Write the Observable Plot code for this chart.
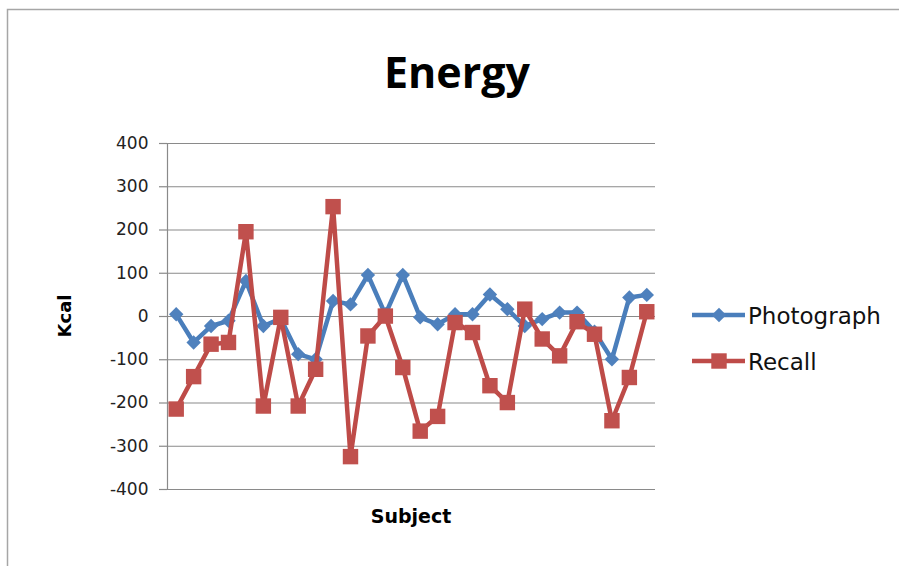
<!DOCTYPE html>
<html>
<head>
<meta charset="utf-8">
<script src="https://cdn.jsdelivr.net/npm/d3@7"></script>
<script src="https://cdn.jsdelivr.net/npm/@observablehq/plot@0.6"></script>
<style>
  html, body { margin: 0; padding: 0; background: #fff; }
  #wrap { position: relative; width: 899px; height: 566px; overflow: hidden; background: #fff; }
  #wrap > svg { position: absolute; left: 0; top: 0; }
</style>
</head>
<body>
<div id="wrap"></div>
<script>
// ---- data ----
const subjects = [1,2,3,4,5,6,7,8,9,10,11,12,13,14,15,16,17,18,19,20,21,22,23,24,25,26,27,28];
const photograph = [5,-60,-22,-10,82,-22,-5,-87,-99,36,28,96,5,96,-2,-18,5,5,51,17,-22,-6,9,9,-35,-99,44,50];
const recall = [-214,-139,-64,-60,196,-207,-2,-207,-122,254,-324,-45,1,-118,-265,-231,-14,-37,-160,-199,17,-52,-91,-12,-41,-241,-141,11];
const yTicks = [-400,-300,-200,-100,0,100,200,300,400];
const xDomain = [0.5, 28.5];
const seriesNames = ["Photograph", "Recall"];
const titleText = "Energy";
const yLabel = "Kcal";
const xLabel = "Subject";

const blueLine = "#4A7EBB", blueFill = "#4F81BD";
const redLine = "#BE4B48", redFill = "#C0504D";
const gridColor = "#8a8a8a";

const photoData = subjects.map((s, i) => ({subject: s, value: photograph[i]}));
const recallData = subjects.map((s, i) => ({subject: s, value: recall[i]}));

const W = 899, H = 566;
const chart = Plot.plot({
  width: W,
  height: H,
  marginLeft: 167,
  marginRight: 244,
  marginTop: 143,
  marginBottom: 77,
  style: {background: "transparent", fontFamily: "DejaVu Sans, sans-serif"},
  x: {type: "linear", domain: xDomain, axis: null},
  y: {domain: [yTicks[0], yTicks[yTicks.length - 1]], axis: null},
  marks: [
    Plot.gridY(yTicks, {stroke: gridColor, strokeOpacity: 1, strokeWidth: 1.2}),
    Plot.axisY(yTicks, {
      tickSize: 8, tickPadding: 11, stroke: gridColor, strokeWidth: 1.2,
      fontSize: 17, fill: "#222", label: null, tickFormat: d => String(d)
    }),
    Plot.ruleX([xDomain[0]], {stroke: gridColor, strokeWidth: 1.2, y1: yTicks[0], y2: yTicks[yTicks.length - 1]}),
    Plot.line(photoData, {x: "subject", y: "value", stroke: blueLine, strokeWidth: 4.5}),
    Plot.dot(photoData, {x: "subject", y: "value", symbol: "diamond2", r: 6.5, fill: blueFill, stroke: "none"}),
    Plot.line(recallData, {x: "subject", y: "value", stroke: redLine, strokeWidth: 4.5}),
    Plot.dot(recallData, {x: "subject", y: "value", symbol: "square", r: 8.7, fill: redFill, stroke: "none"})
  ]
});
document.getElementById("wrap").appendChild(chart);

// ---- overlay: border, title, axis titles, legend ----
const ov = d3.select("#wrap").append("svg")
  .attr("width", W).attr("height", H);

ov.append("path").attr("d", `M7.5,${H} L7.5,9.5 L${W},9.5`)
  .attr("fill", "none").attr("stroke", "#a6a6a6").attr("stroke-width", 1.5);

ov.append("text").text(titleText)
  .attr("x", 457).attr("y", 88).attr("text-anchor", "middle")
  .attr("font-family", "Open Sans, sans-serif").attr("font-weight", "bold")
  .attr("font-size", 43).attr("fill", "#000");

ov.append("text").text(yLabel)
  .attr("transform", "translate(71,316) rotate(-90)").attr("text-anchor", "middle")
  .attr("font-family", "DejaVu Sans, sans-serif").attr("font-weight", "bold")
  .attr("font-size", 18).attr("fill", "#000");

ov.append("text").text(xLabel)
  .attr("x", 411).attr("y", 523).attr("text-anchor", "middle")
  .attr("font-family", "DejaVu Sans, sans-serif").attr("font-weight", "bold")
  .attr("font-size", 19).attr("fill", "#000");

const legendRows = [
  {name: seriesNames[0], line: blueLine, fill: blueFill, sym: d3.symbolDiamond2, size: Math.PI * 6.5 * 6.5, y: 315},
  {name: seriesNames[1], line: redLine, fill: redFill, sym: d3.symbolSquare, size: Math.PI * 8.7 * 8.7, y: 361}
];
legendRows.forEach(r => {
  const g = ov.append("g");
  g.append("line").attr("x1", 692).attr("x2", 745).attr("y1", r.y).attr("y2", r.y)
    .attr("stroke", r.line).attr("stroke-width", 4.5);
  g.append("path").attr("d", d3.symbol(r.sym, r.size)())
    .attr("transform", `translate(719,${r.y})`).attr("fill", r.fill);
  g.append("text").text(r.name).attr("x", 748).attr("y", r.y + 9)
    .attr("font-family", "DejaVu Sans, sans-serif").attr("font-size", 23).attr("fill", "#111");
});
</script>
</body>
</html>
